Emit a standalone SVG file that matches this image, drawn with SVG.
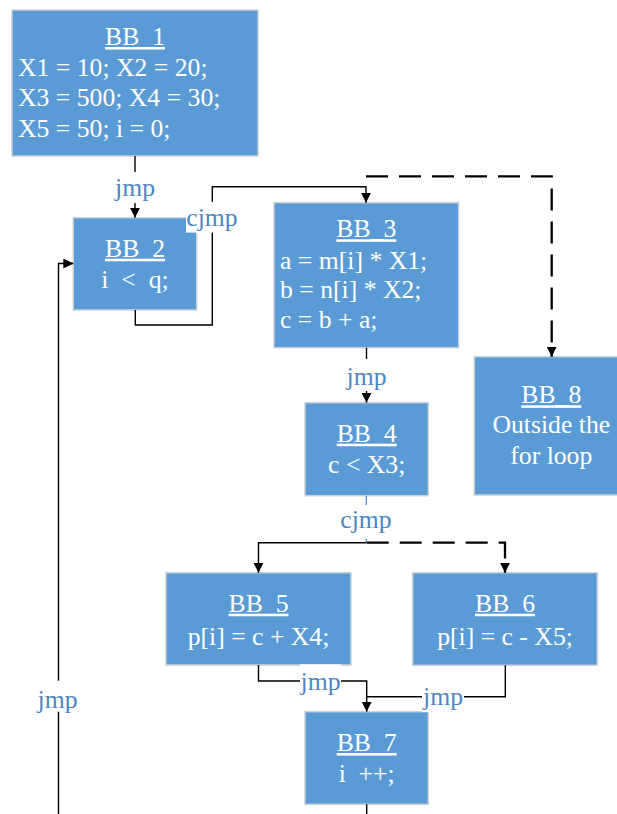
<svg xmlns="http://www.w3.org/2000/svg" width="617" height="814" viewBox="0 0 617 814">
  <defs>
    <marker id="arrow" viewBox="0 0 10 10" refX="10" refY="5" markerWidth="10" markerHeight="10" markerUnits="userSpaceOnUse" orient="auto">
      <path d="M0,0 L10,5 L0,10 z" fill="#000"/>
    </marker>
    <style>
      .box { fill: #5b9bd5; stroke: #c9d0d8; stroke-width: 1.5; }
      .t { font-family: "Liberation Serif", "Times New Roman", serif; font-size: 25.7px; fill: #fff; white-space: pre; }
      .c { text-anchor: middle; }
      .title { text-decoration: underline; }
      .edge { fill: none; stroke: #000; stroke-width: 1.4; }
      .dash { fill: none; stroke: #000; stroke-width: 2.3; stroke-dasharray: 22 11; }
      .blue { fill: none; stroke: #5b9bd5; stroke-width: 1.4; }
      .lbg { fill: #fff; }
      .lbl { font-family: "Liberation Serif", "Times New Roman", serif; font-size: 25.7px; fill: #4e86c4; text-anchor: middle; }
    </style>
  </defs>

  <!-- basic blocks -->
  <g id="bb1">
    <rect class="box" x="12" y="10" width="246" height="146"/>
    <text class="t c title" x="135" y="45">BB_1</text>
    <text class="t" x="18" y="75.5">X1 = 10; X2 = 20;</text>
    <text class="t" x="18" y="106">X3 = 500; X4 = 30;</text>
    <text class="t" x="18" y="136.5">X5 = 50; i = 0;</text>
  </g>
  <g id="bb2">
    <rect class="box" x="73.3" y="217.7" width="123.4" height="92.3"/>
    <text class="t c title" x="135" y="256.7">BB_2</text>
    <text class="t c" x="135" y="288">i  &lt;  q;</text>
  </g>
  <g id="bb3">
    <rect class="box" x="274" y="202.7" width="184.7" height="145"/>
    <text class="t c title" x="366.3" y="237.3">BB_3</text>
    <text class="t" x="280" y="269">a = m[i] * X1;</text>
    <text class="t" x="280" y="298.3">b = n[i] * X2;</text>
    <text class="t" x="280" y="327.7">c = b + a;</text>
  </g>
  <g id="bb4">
    <rect class="box" x="305" y="402.7" width="123.3" height="93"/>
    <text class="t c title" x="366.7" y="441.7">BB_4</text>
    <text class="t c" x="366.7" y="473.3">c &lt; X3;</text>
  </g>
  <g id="bb8">
    <rect class="box" x="474.3" y="356.7" width="154" height="138.3"/>
    <text class="t c title" x="551.3" y="403.3">BB_8</text>
    <text class="t c" x="551.3" y="433.3">Outside the</text>
    <text class="t c" x="551.3" y="464">for loop</text>
  </g>
  <g id="bb5">
    <rect class="box" x="166" y="572.7" width="185" height="92.3"/>
    <text class="t c title" x="258.5" y="611.7">BB_5</text>
    <text class="t c" x="258.5" y="645">p[i] = c + X4;</text>
  </g>
  <g id="bb6">
    <rect class="box" x="412.7" y="572.7" width="184.6" height="92.6"/>
    <text class="t c title" x="505" y="611.7">BB_6</text>
    <text class="t c" x="505" y="645">p[i] = c - X5;</text>
  </g>
  <g id="bb7">
    <rect class="box" x="305" y="711.7" width="123.3" height="92.6"/>
    <text class="t c title" x="366.7" y="751">BB_7</text>
    <text class="t c" x="366.7" y="781.7">i  ++;</text>
  </g>

  <!-- control-flow edges -->
  <g id="connectors">
    <!-- BB_1 -> BB_2 -->
    <path class="edge" d="M135,156 V217.7" marker-end="url(#arrow)"/>
    <!-- BB_2 -> BB_3 (loop body) -->
    <path class="edge" d="M135.3,310 V325 H212.3 V186.8 H366 V202.7" marker-end="url(#arrow)"/>
    <!-- BB_2 -> BB_8 (loop exit) -->
    <path class="dash" d="M366,176.3 H551.7 V356.7" marker-end="url(#arrow)"/>
    <!-- BB_3 -> BB_4 -->
    <path class="edge" d="M366.5,347.7 V402.7" marker-end="url(#arrow)"/>
    <!-- BB_4 branch -->
    <path class="blue" d="M366.3,495.7 V542.7"/>
    <path class="edge" d="M366.3,542.7 H258.5 V572.7" marker-end="url(#arrow)"/>
    <path class="dash" d="M366.7,542.7 H505 V572.7" marker-end="url(#arrow)"/>
    <!-- BB_5 / BB_6 -> BB_7 -->
    <path class="edge" d="M258.5,665 V681 H366.7 V711.7" marker-end="url(#arrow)"/>
    <path class="edge" d="M505.3,665.3 V696.7 H366.7"/>
    <!-- BB_7 back edge -->
    <path class="edge" d="M366.7,804.3 V814"/>
    <path class="edge" d="M58.5,814 V263.5 H73.3" marker-end="url(#arrow)"/>

    <!-- edge labels -->
    <rect class="lbg" x="114.5" y="172" width="41" height="31"/>
    <text class="lbl" x="135" y="196">jmp</text>
    <rect class="lbg" x="186" y="201.8" width="51" height="30.8"/>
    <text class="lbl" x="212" y="225.7">cjmp</text>
    <rect class="lbg" x="345.5" y="359" width="42" height="32"/>
    <text class="lbl" x="366.5" y="385">jmp</text>
    <rect class="lbg" x="340" y="505" width="52" height="34"/>
    <text class="lbl" x="366" y="528.3">cjmp</text>
    <rect class="lbg" x="300" y="664.3" width="41" height="33"/>
    <text class="lbl" x="320.5" y="690">jmp</text>
    <rect class="lbg" x="422" y="681" width="42" height="31"/>
    <text class="lbl" x="443" y="704.5">jmp</text>
    <rect class="lbg" x="36.5" y="680.7" width="43" height="31"/>
    <text class="lbl" x="57.5" y="707.5">jmp</text>
  </g>
</svg>
